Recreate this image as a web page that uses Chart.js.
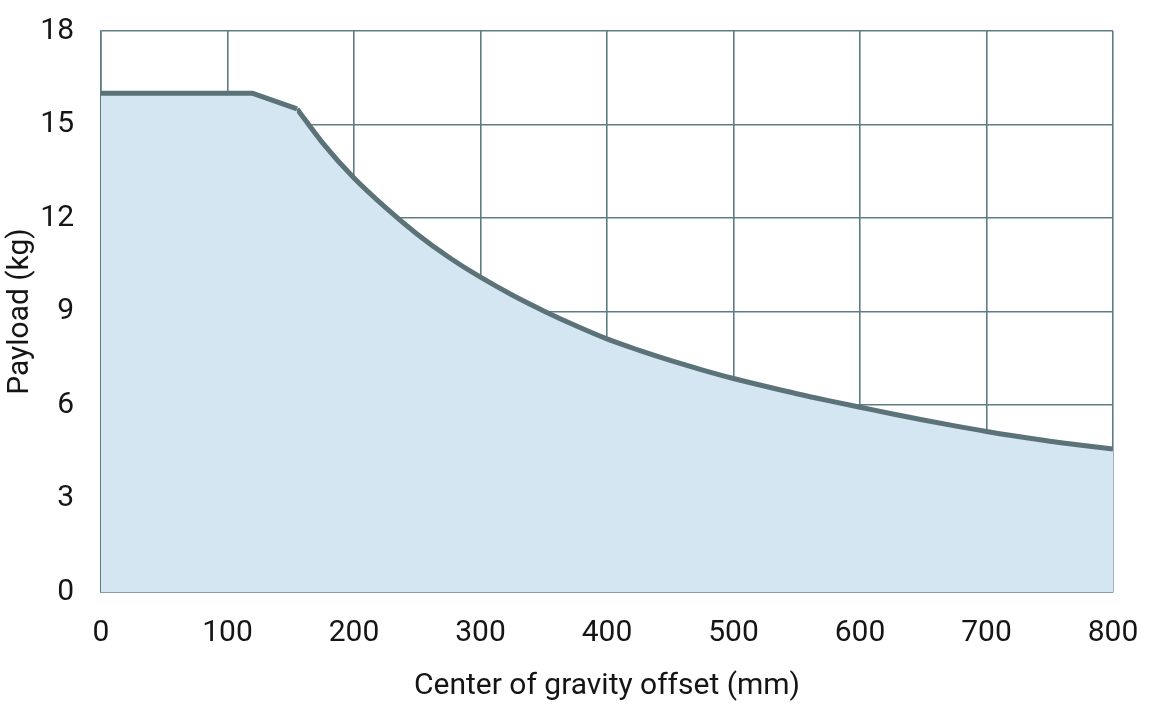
<!DOCTYPE html>
<html>
<head>
<meta charset="utf-8">
<script src="https://cdn.jsdelivr.net/npm/chart.js@4.4.1/dist/chart.umd.min.js"></script>
<style>
  html, body { margin: 0; padding: 0; background: #fff; }
  #wrap { width: 1155px; height: 726px; position: relative; }
</style>
</head>
<body>
<div id="wrap"><canvas id="payload-chart"></canvas></div>
<script>
// offset (mm) and payload (kg)
// straight part: flat top and the short chamfer
var flatOffsets = [0, 120, 155];
var flatPayloads = [16, 16, 15.5];
// curved part from the chamfer end to 800 mm
var curveOffsets = [155, 175, 200, 225, 250, 275, 300, 325, 350, 375, 400, 425, 450, 475, 500,
                    525, 550, 575, 600, 625, 650, 675, 700, 725, 750, 775, 800];
var curvePayloads = [15.5, 14.42, 13.28, 12.33, 11.48, 10.74, 10.1, 9.53, 9.02, 8.55, 8.12, 7.76, 7.43, 7.13, 6.85,
                     6.6, 6.36, 6.14, 5.93, 5.72, 5.52, 5.33, 5.15, 4.99, 4.84, 4.71, 4.59];
var xTicks = [0, 100, 200, 300, 400, 500, 600, 700, 800];
var yTicks = [0, 3, 6, 9, 12, 15, 18];

var gridColor = '#5f7c82';
var lineColor = '#5b7378';
var fillColor = '#d4e6f1';
var textColor = '#151515';
var fontFamily = 'Roboto';

function toPoints(xs, ys) {
    return xs.map(function(x, i) {
        return { x: x, y: ys[i] };
    });
}

var ctx = document.getElementById('payload-chart').getContext('2d');
var myChart = new Chart(ctx, {
    type: 'line',
    data: {
        datasets: [{
            label: 'Payload',
            data: toPoints(flatOffsets, flatPayloads),
            borderColor: lineColor,
            borderWidth: 5,
            borderJoinStyle: 'round',
            backgroundColor: fillColor,
            fill: 'origin',
            pointRadius: 0,
            tension: 0
        }, {
            label: 'Payload curve',
            data: toPoints(curveOffsets, curvePayloads),
            borderColor: lineColor,
            borderWidth: 5,
            borderJoinStyle: 'round',
            backgroundColor: fillColor,
            fill: 'origin',
            pointRadius: 0,
            cubicInterpolationMode: 'monotone'
        }]
    },
    options: {
        responsive: true,
        maintainAspectRatio: false,
        animation: false,
        layout: {
            padding: { top: 31, right: 42, bottom: 0, left: 0 }
        },
        plugins: {
            legend: { display: false },
            tooltip: { enabled: false }
        },
        scales: {
            x: {
                type: 'linear',
                min: 0,
                max: 800,
                z: 1,
                afterBuildTicks: function(axis) {
                    axis.ticks = xTicks.map(function(v) { return { value: v }; });
                },
                afterFit: function(axis) {
                    axis.paddingLeft = 0;
                    axis.paddingRight = 0;
                    axis.height = 134;
                },
                grid: { color: gridColor, lineWidth: 1.6, drawTicks: false },
                border: { color: gridColor, width: 1.6 },
                ticks: {
                    color: textColor,
                    padding: 23,
                    maxRotation: 0,
                    font: { family: fontFamily, size: 30 }
                },
                title: {
                    display: true,
                    text: 'Center of gravity offset (mm)',
                    color: textColor,
                    padding: { top: 0, bottom: 22 },
                    font: { family: fontFamily, size: 30 }
                }
            },
            y: {
                min: 0,
                max: 18,
                z: 1,
                afterBuildTicks: function(axis) {
                    axis.ticks = yTicks.map(function(v) { return { value: v }; });
                },
                afterFit: function(axis) {
                    axis.paddingTop = 0;
                    axis.paddingBottom = 0;
                    axis.width = 101;
                },
                grid: { color: gridColor, lineWidth: 1.6, drawTicks: false },
                border: { color: gridColor, width: 1.6 },
                ticks: {
                    color: textColor,
                    padding: 27,
                    font: { family: fontFamily, size: 30 }
                },
                title: {
                    display: true,
                    text: 'Payload (kg)',
                    color: textColor,
                    padding: { top: 2, bottom: 0 },
                    font: { family: fontFamily, size: 30 }
                }
            }
        }
    }
});
</script>
</body>
</html>
